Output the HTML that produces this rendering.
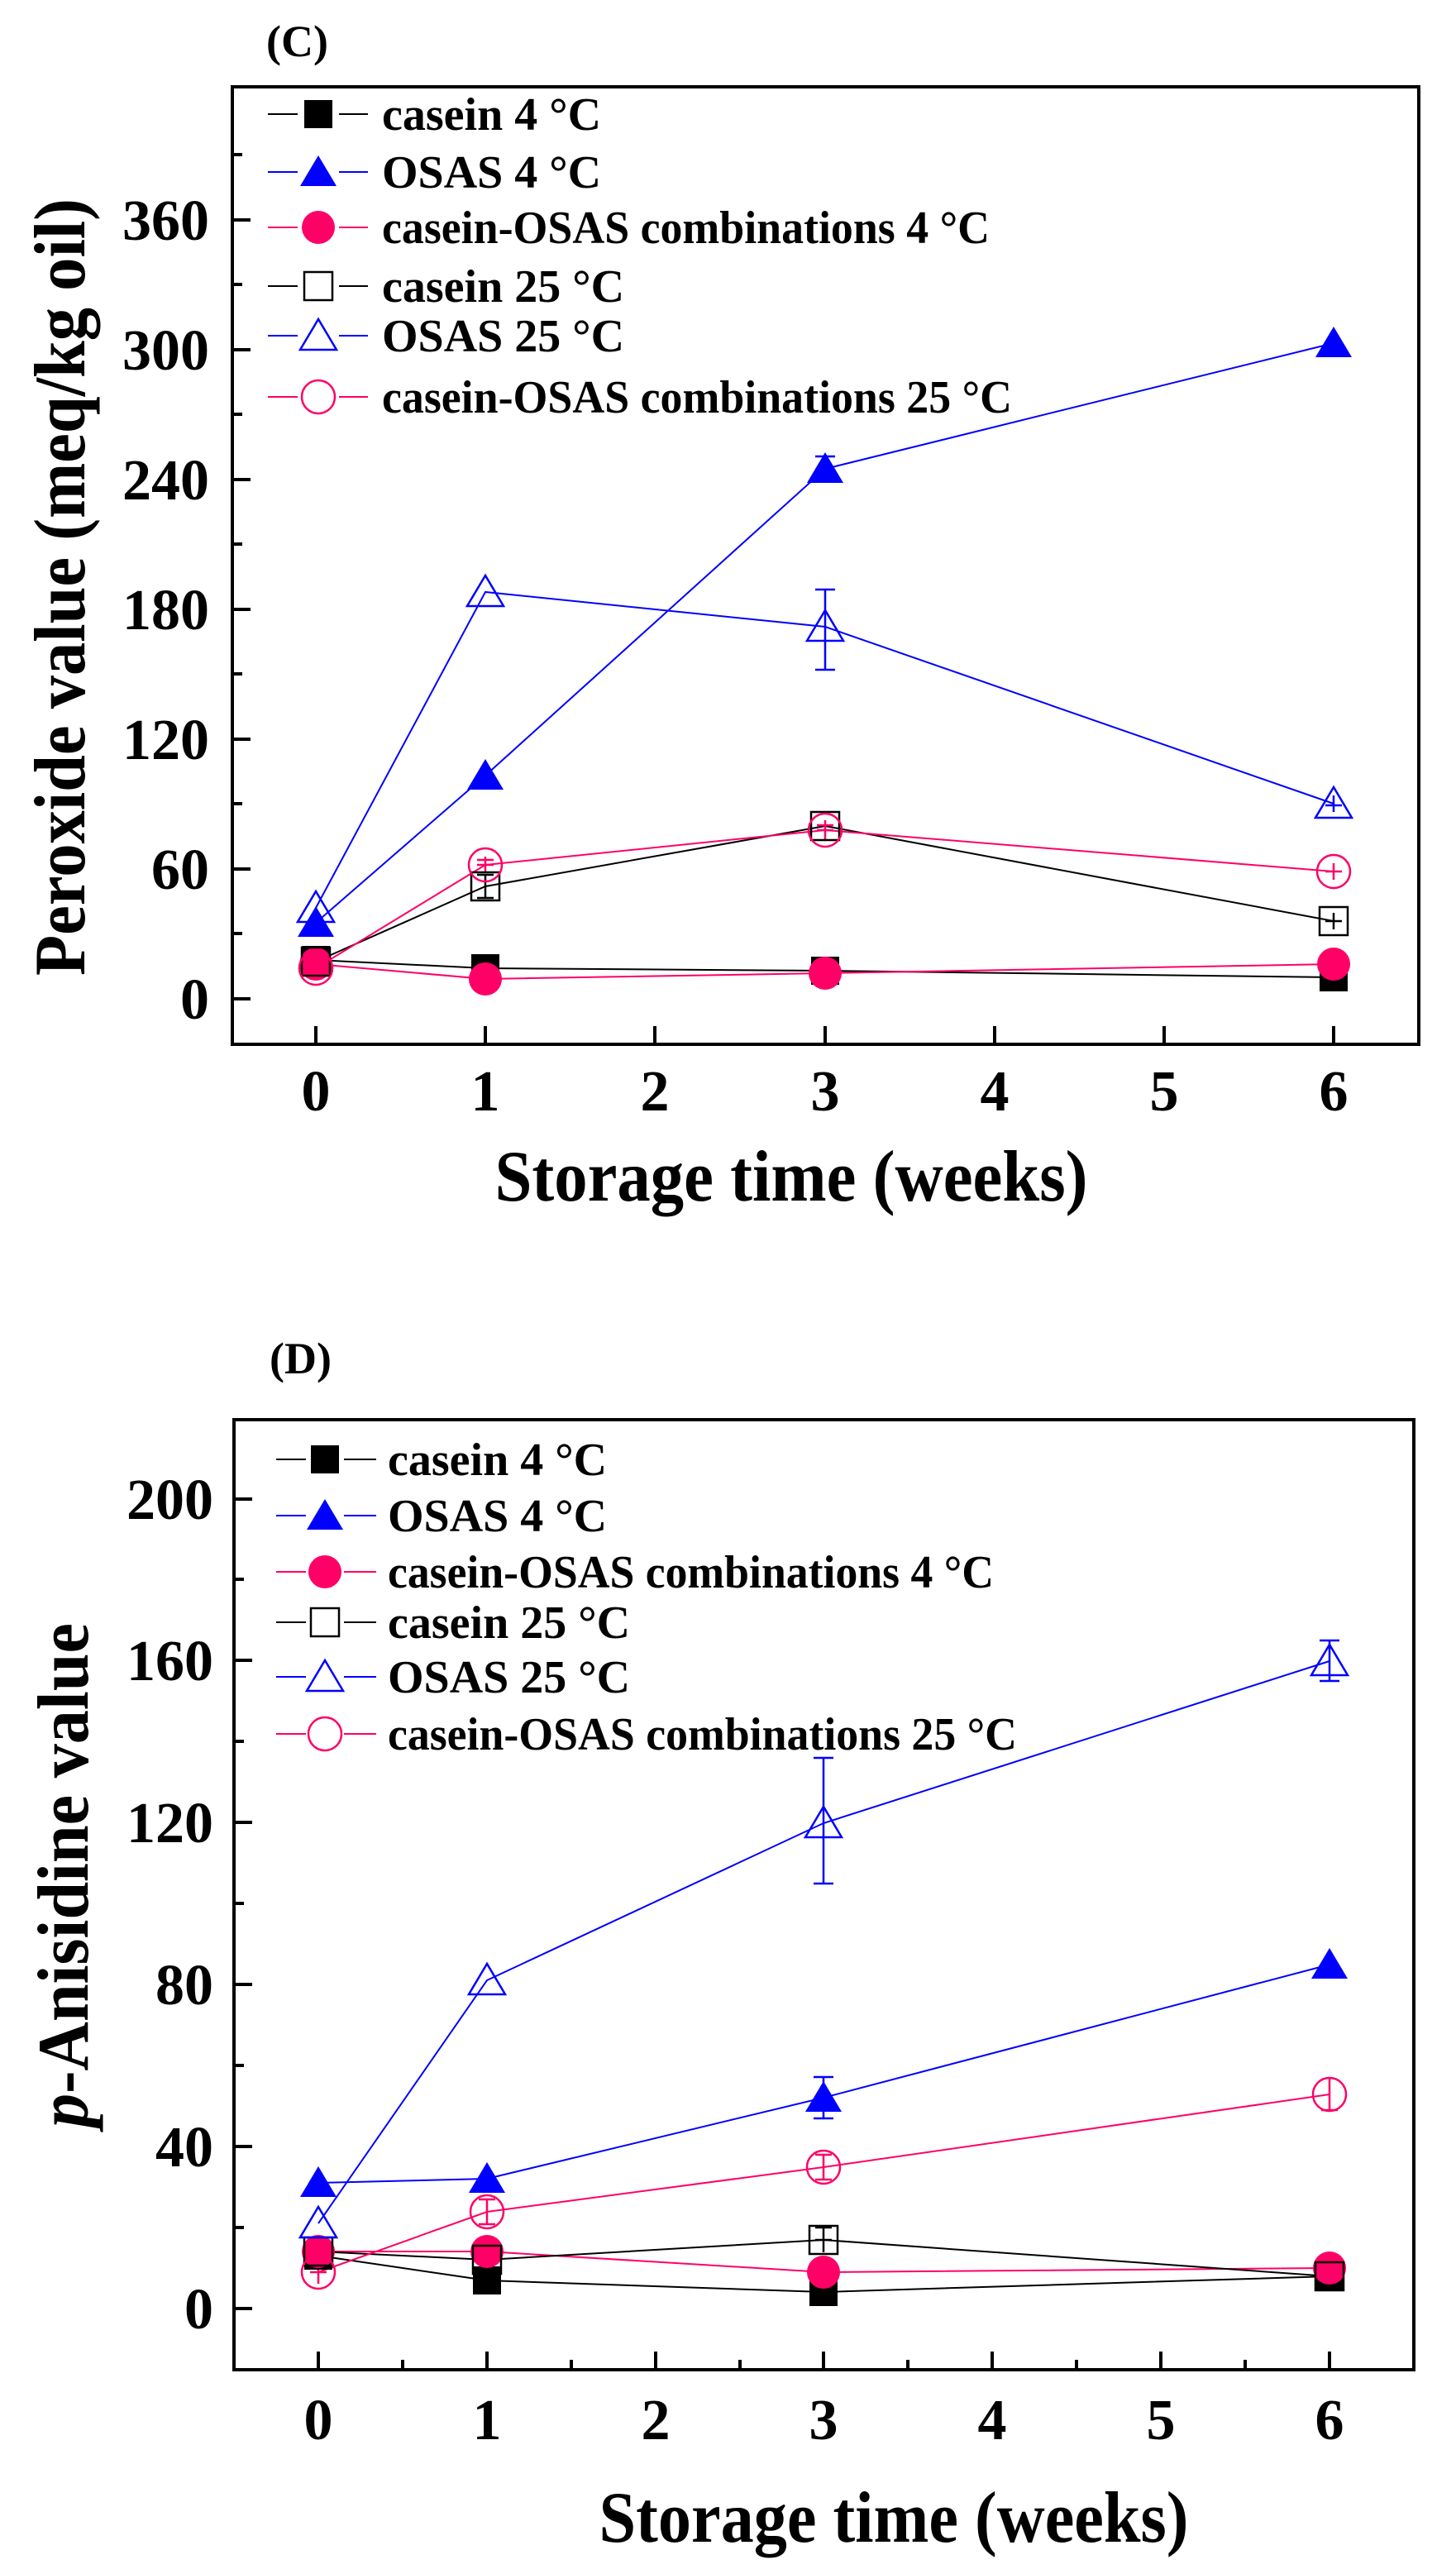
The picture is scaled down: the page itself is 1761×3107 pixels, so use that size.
<!DOCTYPE html>
<html><head><meta charset="utf-8"><style>
html,body{margin:0;padding:0;background:#fff;}
svg{display:block;}
text{font-family:"Liberation Serif",serif;font-weight:bold;fill:#000;}
</style></head><body>
<svg width="1761" height="3107" viewBox="0 0 1761 3107" xmlns="http://www.w3.org/2000/svg">
<rect width="1761" height="3107" fill="#fff"/>

<!-- ================= CHART C ================= -->
<text x="322" y="68" font-size="54">(C)</text>
<rect x="281" y="105" width="1435" height="1158" fill="none" stroke="#000" stroke-width="4"/>
<g stroke="#000" stroke-width="4">
<line x1="281" y1="1208" x2="303" y2="1208"/><line x1="281" y1="1051" x2="303" y2="1051"/>
<line x1="281" y1="894" x2="303" y2="894"/><line x1="281" y1="737" x2="303" y2="737"/>
<line x1="281" y1="580" x2="303" y2="580"/><line x1="281" y1="423" x2="303" y2="423"/>
<line x1="281" y1="266" x2="303" y2="266"/>
<line x1="281" y1="1129" x2="293" y2="1129"/><line x1="281" y1="972" x2="293" y2="972"/>
<line x1="281" y1="815" x2="293" y2="815"/><line x1="281" y1="658" x2="293" y2="658"/>
<line x1="281" y1="501" x2="293" y2="501"/><line x1="281" y1="344" x2="293" y2="344"/>
<line x1="281" y1="187" x2="293" y2="187"/>
<line x1="382" y1="1263" x2="382" y2="1241"/><line x1="587" y1="1263" x2="587" y2="1241"/>
<line x1="792" y1="1263" x2="792" y2="1241"/><line x1="998" y1="1263" x2="998" y2="1241"/>
<line x1="1203" y1="1263" x2="1203" y2="1241"/><line x1="1408" y1="1263" x2="1408" y2="1241"/>
<line x1="1613" y1="1263" x2="1613" y2="1241"/>
</g>
<g font-size="70" text-anchor="end">
<text x="253" y="1232">0</text><text x="253" y="1075">60</text><text x="253" y="918">120</text>
<text x="253" y="761">180</text><text x="253" y="604">240</text><text x="253" y="447">300</text>
<text x="253" y="290">360</text>
</g>
<g font-size="70" text-anchor="middle">
<text x="382" y="1343">0</text><text x="587" y="1343">1</text><text x="792" y="1343">2</text>
<text x="998" y="1343">3</text><text x="1203" y="1343">4</text><text x="1408" y="1343">5</text>
<text x="1613" y="1343">6</text>
</g>
<text x="957" y="1452" font-size="88" text-anchor="middle" textLength="717" lengthAdjust="spacingAndGlyphs">Storage time (weeks)</text>
<text transform="translate(102,710) rotate(-90)" font-size="88" text-anchor="middle" textLength="940" lengthAdjust="spacingAndGlyphs">Peroxide value (meq/kg oil)</text>

<g fill="none" stroke-width="2">
<polyline stroke="#000" points="382,1161 587,1171 998,1174 1613,1182"/>
<polyline stroke="#0000ff" points="382,1116 587,938 998,567 1613,415"/>
<polyline stroke="#ff0066" points="382,1166 587,1184 998,1177 1613,1166"/>
<polyline stroke="#000" points="382,1163 587,1072 998,999 1613,1114"/>
<polyline stroke="#0000ff" points="382,1098 587,716 998,758 1613,972"/>
<polyline stroke="#ff0066" points="382,1171 587,1046 998,1004 1613,1054"/>
</g>
<g stroke-width="2.5" fill="none">
<path stroke="#0000ff" d="M998,713V810M986,713H1010M986,810H1010"/>
<path stroke="#0000ff" d="M998,552V582M986,552H1010M986,582H1010"/>
<path stroke="#000" d="M587,1058V1086M577,1086H597M577,1058H597"/>
<path stroke="#000" d="M1613,1104V1124M1603,1114H1623"/>
<path stroke="#ff0066" d="M587,1036V1056M577,1046H597M577,1040H597"/>
<path stroke="#ff0066" d="M998,992V1016M988,1004H1008M988,998H1008"/>
<path stroke="#ff0066" d="M1613,1044V1064M1603,1054H1623"/>
<path stroke="#ff0066" d="M382,1160V1182M372,1168H392M372,1174H392"/>
<path stroke="#0000ff" d="M1613,962V982M1603,974H1623"/>
</g>
<g fill="#000"><rect x="365" y="1144" width="34" height="34"/><rect x="570" y="1154" width="34" height="34"/><rect x="981" y="1157" width="34" height="34"/><rect x="1596" y="1165" width="34" height="34"/></g>
<g fill="#0000ff"><polygon points="382,1096 360,1133 404,1133"/><polygon points="587,918 565,955 609,955"/><polygon points="998,547 976,584 1020,584"/><polygon points="1613,395 1591,432 1635,432"/></g>
<g fill="#ff0066"><circle cx="382" cy="1166" r="20"/><circle cx="587" cy="1184" r="20"/><circle cx="998" cy="1177" r="20"/><circle cx="1613" cy="1166" r="20"/></g>
<g fill="none" stroke="#000" stroke-width="2.5"><rect x="365" y="1146" width="34" height="34"/><rect x="570" y="1055" width="34" height="34"/><rect x="981" y="982" width="34" height="34"/><rect x="1596" y="1097" width="34" height="34"/></g>
<g fill="none" stroke="#0000ff" stroke-width="2.5"><polygon points="382,1078 360,1115 404,1115"/><polygon points="587,696 565,733 609,733"/><polygon points="998,738 976,775 1020,775"/><polygon points="1613,952 1591,989 1635,989"/></g>
<g fill="none" stroke="#ff0066" stroke-width="2.5"><circle cx="382" cy="1171" r="20"/><circle cx="587" cy="1046" r="20"/><circle cx="998" cy="1004" r="20"/><circle cx="1613" cy="1054" r="20"/></g>

<g stroke-width="2">
<path d="M324,138H360M410,138H445" stroke="#000"/><rect x="368" y="121" width="34" height="34" fill="#000"/>
<path d="M324,208H360M410,208H445" stroke="#0000ff"/><polygon points="385,188 363,225 407,225" fill="#0000ff"/>
<path d="M324,275H360M410,275H445" stroke="#ff0066"/><circle cx="385" cy="275" r="20" fill="#ff0066"/>
<path d="M324,346H360M410,346H445" stroke="#000"/><rect x="368" y="329" width="34" height="34" fill="#fff" stroke="#000" stroke-width="2.5"/>
<path d="M324,406H360M410,406H445" stroke="#0000ff"/><polygon points="385,386 363,423 407,423" fill="#fff" stroke="#0000ff" stroke-width="2.5"/>
<path d="M324,480H360M410,480H445" stroke="#ff0066"/><circle cx="385" cy="480" r="20" fill="#fff" stroke="#ff0066" stroke-width="2.5"/>
</g>
<g font-size="56">
<text x="462" y="157">casein 4 °C</text>
<text x="462" y="227">OSAS 4 °C</text>
<text x="462" y="294" textLength="735" lengthAdjust="spacingAndGlyphs">casein-OSAS combinations 4 °C</text>
<text x="462" y="365">casein 25 °C</text>
<text x="462" y="425">OSAS 25 °C</text>
<text x="462" y="499" textLength="762" lengthAdjust="spacingAndGlyphs">casein-OSAS combinations 25 °C</text>
</g>

<!-- ================= CHART D ================= -->
<text x="326" y="1661" font-size="54">(D)</text>
<rect x="283" y="1717" width="1427" height="1149" fill="none" stroke="#000" stroke-width="4"/>
<g stroke="#000" stroke-width="4">
<line x1="283" y1="2792" x2="305" y2="2792"/><line x1="283" y1="2596" x2="305" y2="2596"/>
<line x1="283" y1="2400" x2="305" y2="2400"/><line x1="283" y1="2204" x2="305" y2="2204"/>
<line x1="283" y1="2008" x2="305" y2="2008"/><line x1="283" y1="1813" x2="305" y2="1813"/>
<line x1="283" y1="2694" x2="295" y2="2694"/><line x1="283" y1="2498" x2="295" y2="2498"/>
<line x1="283" y1="2302" x2="295" y2="2302"/><line x1="283" y1="2106" x2="295" y2="2106"/>
<line x1="283" y1="1910" x2="295" y2="1910"/>
<line x1="385" y1="2866" x2="385" y2="2844"/><line x1="589" y1="2866" x2="589" y2="2844"/>
<line x1="793" y1="2866" x2="793" y2="2844"/><line x1="996" y1="2866" x2="996" y2="2844"/>
<line x1="1200" y1="2866" x2="1200" y2="2844"/><line x1="1404" y1="2866" x2="1404" y2="2844"/>
<line x1="1608" y1="2866" x2="1608" y2="2844"/>
<line x1="487" y1="2866" x2="487" y2="2854"/><line x1="691" y1="2866" x2="691" y2="2854"/>
<line x1="895" y1="2866" x2="895" y2="2854"/><line x1="1098" y1="2866" x2="1098" y2="2854"/>
<line x1="1302" y1="2866" x2="1302" y2="2854"/><line x1="1506" y1="2866" x2="1506" y2="2854"/>
</g>
<g font-size="70" text-anchor="end">
<text x="258" y="2816">0</text><text x="258" y="2620">40</text><text x="258" y="2424">80</text>
<text x="258" y="2228">120</text><text x="258" y="2032">160</text><text x="258" y="1837">200</text>
</g>
<g font-size="70" text-anchor="middle">
<text x="385" y="2950">0</text><text x="589" y="2950">1</text><text x="793" y="2950">2</text>
<text x="996" y="2950">3</text><text x="1200" y="2950">4</text><text x="1404" y="2950">5</text>
<text x="1608" y="2950">6</text>
</g>
<text x="1081" y="3074" font-size="88" text-anchor="middle" textLength="713" lengthAdjust="spacingAndGlyphs">Storage time (weeks)</text>
<text transform="translate(106,2268) rotate(-90)" font-size="88" text-anchor="middle" textLength="610" lengthAdjust="spacingAndGlyphs"><tspan font-style="italic">p</tspan>-Anisidine value</text>

<g fill="none" stroke-width="2">
<polyline stroke="#000" points="385,2728 589,2758 996,2772 1608,2753"/>
<polyline stroke="#0000ff" points="385,2640 589,2635 996,2537 1608,2376"/>
<polyline stroke="#ff0066" points="385,2723 589,2723 996,2748 1608,2743"/>
<polyline stroke="#000" points="385,2723 589,2733 996,2709 1608,2753"/>
<polyline stroke="#0000ff" points="385,2689 589,2395 996,2205 1608,2009"/>
<polyline stroke="#ff0066" points="385,2748 589,2675 996,2621 1608,2533"/>
</g>
<g stroke-width="2.5" fill="none">
<path stroke="#0000ff" d="M996,2126V2278M984,2126H1008M984,2278H1008"/>
<path stroke="#0000ff" d="M1608,1984V2033M1596,1984H1620M1596,2033H1620"/>
<path stroke="#0000ff" d="M996,2512V2562M984,2512H1008M984,2562H1008"/>
<path stroke="#000" d="M996,2694V2724M986,2694H1006M986,2709H1006"/>
<path stroke="#000" d="M1608,2743V2763M1598,2753H1618"/>
<path stroke="#ff0066" d="M589,2660V2690M579,2660H599M579,2690H599"/>
<path stroke="#ff0066" d="M996,2606V2636M986,2606H1006M986,2636H1006"/>
<path stroke="#ff0066" d="M1608,2514V2552M1598,2552H1618"/>
<path stroke="#ff0066" d="M385,2735V2762M375,2748H395"/>
</g>
<g fill="#000"><rect x="368" y="2711" width="34" height="34"/><rect x="572" y="2741" width="34" height="34"/><rect x="979" y="2755" width="34" height="34"/><rect x="1591" y="2736" width="34" height="34"/></g>
<g fill="#0000ff"><polygon points="385,2620 363,2657 407,2657"/><polygon points="589,2615 567,2652 611,2652"/><polygon points="996,2517 974,2554 1018,2554"/><polygon points="1608,2356 1586,2393 1630,2393"/></g>
<g fill="#ff0066"><circle cx="385" cy="2723" r="20"/><circle cx="589" cy="2723" r="20"/><circle cx="996" cy="2748" r="20"/><circle cx="1608" cy="2743" r="20"/></g>
<g fill="none" stroke="#000" stroke-width="2.5"><rect x="368" y="2706" width="34" height="34"/><rect x="572" y="2716" width="34" height="34"/><rect x="979" y="2692" width="34" height="34"/><rect x="1591" y="2736" width="34" height="34"/></g>
<g fill="none" stroke="#0000ff" stroke-width="2.5"><polygon points="385,2669 363,2706 407,2706"/><polygon points="589,2375 567,2412 611,2412"/><polygon points="996,2185 974,2222 1018,2222"/><polygon points="1608,1989 1586,2026 1630,2026"/></g>
<g fill="none" stroke="#ff0066" stroke-width="2.5"><circle cx="385" cy="2748" r="20"/><circle cx="589" cy="2675" r="20"/><circle cx="996" cy="2621" r="20"/><circle cx="1608" cy="2533" r="20"/></g>

<g stroke-width="2">
<path d="M334,1765H370M416,1765H455" stroke="#000"/><rect x="376" y="1748" width="34" height="34" fill="#000"/>
<path d="M334,1833H370M416,1833H455" stroke="#0000ff"/><polygon points="393,1813 371,1850 415,1850" fill="#0000ff"/>
<path d="M334,1901H370M416,1901H455" stroke="#ff0066"/><circle cx="393" cy="1901" r="20" fill="#ff0066"/>
<path d="M334,1962H370M416,1962H455" stroke="#000"/><rect x="376" y="1945" width="34" height="34" fill="#fff" stroke="#000" stroke-width="2.5"/>
<path d="M334,2028H370M416,2028H455" stroke="#0000ff"/><polygon points="393,2008 371,2045 415,2045" fill="#fff" stroke="#0000ff" stroke-width="2.5"/>
<path d="M334,2097H370M416,2097H455" stroke="#ff0066"/><circle cx="393" cy="2097" r="20" fill="#fff" stroke="#ff0066" stroke-width="2.5"/>
</g>
<g font-size="56">
<text x="469" y="1784">casein 4 °C</text>
<text x="469" y="1852">OSAS 4 °C</text>
<text x="469" y="1920" textLength="733" lengthAdjust="spacingAndGlyphs">casein-OSAS combinations 4 °C</text>
<text x="469" y="1981">casein 25 °C</text>
<text x="469" y="2047">OSAS 25 °C</text>
<text x="469" y="2116" textLength="761" lengthAdjust="spacingAndGlyphs">casein-OSAS combinations 25 °C</text>
</g>
</svg>
</body></html>
